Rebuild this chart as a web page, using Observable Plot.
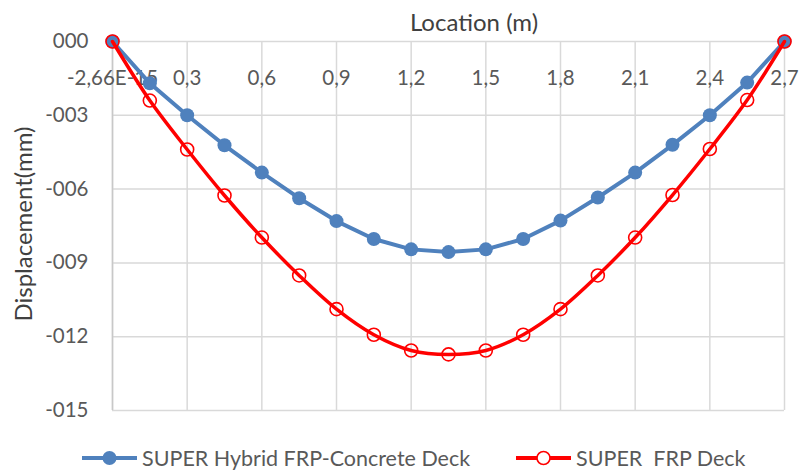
<!DOCTYPE html>
<html>
<head>
<meta charset="utf-8">
<script src="https://cdn.jsdelivr.net/npm/d3@7"></script>
<script src="https://cdn.jsdelivr.net/npm/@observablehq/plot@0.6"></script>
<style>
  body { margin: 0; background: #fff; }
  #wrap { position: relative; width: 801px; height: 475px; font-family: Lato, sans-serif; color: #595959; }
  #wrap > svg { position: absolute; left: 0; top: 0; }
  .leg { position: absolute; top: 438px; height: 40px; display: flex; align-items: center; font-size: 21.5px; white-space: pre; color: #595959; }
  .leg svg { display: block; margin-right: 5px; }
  .title { position: absolute; font-size: 24px; color: #404040; white-space: pre; line-height: 1; transform: translate(-50%, -50%); }
  .title.rot { transform: translate(-50%, -50%) rotate(-90deg); }
</style>
</head>
<body>
<div id="wrap"></div>
<script>
const locations = [0, 0.15, 0.3, 0.45, 0.6, 0.75, 0.9, 1.05, 1.2, 1.35, 1.5, 1.65, 1.8, 1.95, 2.1, 2.25, 2.4, 2.55, 2.7];
const hybridDeck = [0, -1.7, -3.0, -4.22, -5.33, -6.37, -7.3, -8.03, -8.45, -8.56, -8.45, -8.03, -7.28, -6.34, -5.33, -4.2, -3.0, -1.67, 0];
const frpDeck = [0, -2.4, -4.39, -6.26, -7.97, -9.51, -10.88, -11.92, -12.56, -12.72, -12.56, -11.92, -10.88, -9.51, -7.97, -6.24, -4.37, -2.38, 0];
const xTicks = [0, 0.3, 0.6, 0.9, 1.2, 1.5, 1.8, 2.1, 2.4, 2.7];
const xTickLabels = ["-2,66E-15", "0,3", "0,6", "0,9", "1,2", "1,5", "1,8", "2,1", "2,4", "2,7"];
const yTicks = [0, -3, -6, -9, -12, -15];
const yTickLabels = ["000", "-003", "-006", "-009", "-012", "-015"];
const seriesNames = ["SUPER Hybrid FRP-Concrete Deck", "SUPER  FRP Deck"];
const seriesColors = ["#4F81BD", "#FF0000"];
const xTitle = "Location (m)";
const yTitle = "Displacement(mm)";

const hybrid = locations.map((x, i) => ({x, y: hybridDeck[i]}));
const frp = locations.map((x, i) => ({x, y: frpDeck[i]}));

const chart = Plot.plot({
  width: 801,
  height: 430,
  marginLeft: 112,
  marginRight: 17,
  marginTop: 41,
  marginBottom: 20,
  style: {fontFamily: "Lato, sans-serif", fontSize: "20.5px", color: "#595959", background: "white"},
  x: {domain: [0, 2.7]},
  y: {domain: [-15, 0]},
  marks: [
    Plot.gridX(xTicks, {stroke: "#d9d9d9", strokeOpacity: 1, strokeWidth: 1.5}),
    Plot.gridY(yTicks, {stroke: "#d9d9d9", strokeOpacity: 1, strokeWidth: 1.5}),
    Plot.ruleX([0], {stroke: "#c8c8c8", strokeWidth: 1.5}),
    Plot.axisY(yTicks, {tickSize: 0, tickPadding: 24, tickFormat: d => yTickLabels[yTicks.indexOf(d)], label: null}),
    Plot.axisX(xTicks, {anchor: "top", tickSize: 0, tickPadding: 0, dy: 43, tickFormat: d => xTickLabels[xTicks.indexOf(d)], label: null}),
    Plot.line(hybrid, {x: "x", y: "y", stroke: seriesColors[0], strokeWidth: 4}),
    Plot.dot(hybrid, {x: "x", y: "y", r: 7, fill: seriesColors[0], stroke: null}),
    Plot.line(frp, {x: "x", y: "y", curve: "catmull-rom", stroke: seriesColors[1], strokeWidth: 3.5}),
    Plot.dot(frp, {x: "x", y: "y", r: 6.5, fill: "none", stroke: seriesColors[1], strokeWidth: 1.6})
  ]
});

const wrap = document.getElementById("wrap");
wrap.appendChild(chart);

function title(text, left, top, rotated) {
  const d = document.createElement("div");
  d.className = "title" + (rotated ? " rot" : "");
  d.style.left = left + "px";
  d.style.top = top + "px";
  d.textContent = text;
  wrap.appendChild(d);
}
title(xTitle, 474, 22, false);
title(yTitle, 23, 224, true);

function legendItem(left, name, color, filled) {
  const div = document.createElement("div");
  div.className = "leg";
  div.style.left = left + "px";
  const svg = d3.create("svg").attr("width", 55).attr("height", 20);
  svg.append("line").attr("x1", 0).attr("x2", 55).attr("y1", 10).attr("y2", 10)
    .attr("stroke", color).attr("stroke-width", 4);
  svg.append("circle").attr("cx", 27.5).attr("cy", 10).attr("r", filled ? 7 : 6.5)
    .attr("fill", filled ? color : "white").attr("stroke", filled ? "none" : color).attr("stroke-width", 1.6);
  div.appendChild(svg.node());
  const span = document.createElement("span");
  span.textContent = name;
  div.appendChild(span);
  wrap.appendChild(div);
}
legendItem(82, seriesNames[0], seriesColors[0], true);
legendItem(516, seriesNames[1], seriesColors[1], false);
</script>
</body>
</html>
